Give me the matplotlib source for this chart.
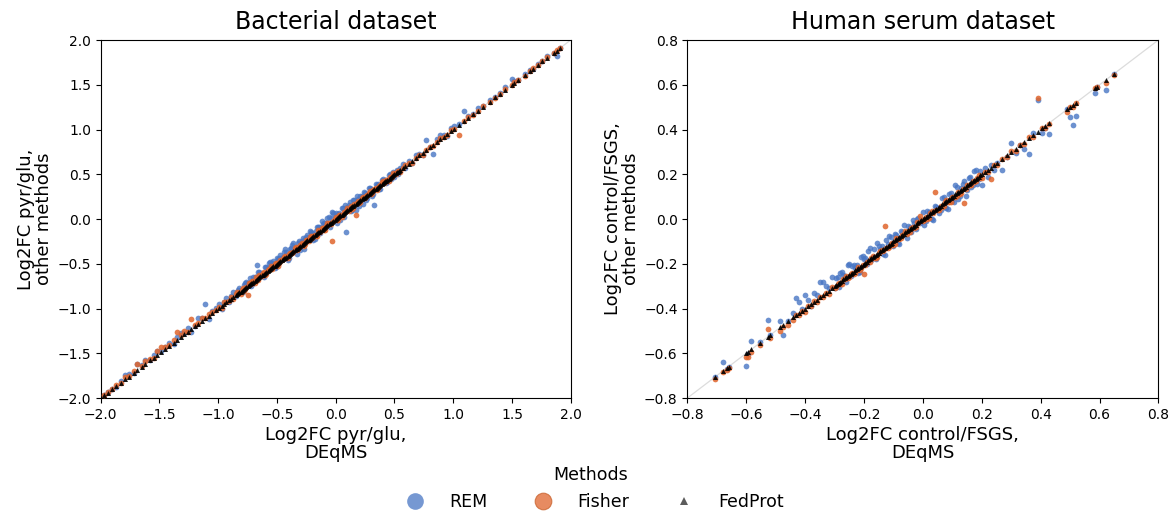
import matplotlib
matplotlib.use("Agg")
import matplotlib.pyplot as plt
from matplotlib.lines import Line2D

# Bacterial dataset: DEqMS log2FC (x) and per-method differences to it
bact_x_low = [-1.97, -1.94, -1.9, -1.87, -1.83, -1.79, -1.76, -1.72, -1.69, -1.65,
              -1.62, -1.58, -1.55, -1.52, -1.49, -1.45, -1.42, -1.38, -1.35, -1.32,
              -1.29, -1.26, -1.23, -1.2, -1.17, -1.14, -1.11, -1.08, -1.05, -1.02]
bact_x_mid = [-0.99, -0.97, -0.95, -0.93, -0.91, -0.89, -0.87, -0.85, -0.83, -0.81,
              -0.79, -0.77, -0.75, -0.73, -0.71, -0.69, -0.67, -0.65, -0.63, -0.61,
              -0.59, -0.57, -0.55, -0.53, -0.51, -0.49, -0.47, -0.45, -0.43, -0.41,
              -0.39, -0.37, -0.35, -0.33, -0.31, -0.29, -0.27, -0.25, -0.23, -0.21,
              -0.19, -0.17, -0.15, -0.13, -0.11, -0.09, -0.07, -0.05, -0.03, -0.01,
              0.01, 0.03, 0.05, 0.07, 0.09, 0.11, 0.13, 0.15, 0.17, 0.19,
              0.21, 0.23, 0.25, 0.27, 0.29, 0.31, 0.33, 0.35, 0.37, 0.39,
              0.41, 0.43, 0.45, 0.47, 0.49, 0.51, 0.53, 0.55, 0.57, 0.59]
bact_x_high = [0.62, 0.65, 0.68, 0.71, 0.74, 0.77, 0.8, 0.83, 0.86, 0.89,
               0.92, 0.95, 0.98, 1.01, 1.05, 1.09, 1.13, 1.17, 1.21, 1.25,
               1.31, 1.36, 1.4, 1.44, 1.5, 1.52, 1.55, 1.61, 1.65, 1.68,
               1.72, 1.76, 1.8, 1.86, 1.88, 1.91]
bact_x_dense = [-0.84, -0.82, -0.8, -0.78, -0.76, -0.74, -0.72, -0.7, -0.68, -0.66,
                -0.64, -0.62, -0.6, -0.58, -0.56, -0.54, -0.52, -0.5, -0.48, -0.46,
                -0.44, -0.42, -0.4, -0.38, -0.36, -0.34, -0.32, -0.3, -0.28, -0.26,
                -0.24, -0.22, -0.2, -0.18, -0.16, -0.14, -0.12, -0.1, -0.08, -0.06,
                -0.04, -0.02, 0.0, 0.02, 0.04, 0.06, 0.08, 0.1, 0.12, 0.14,
                0.16, 0.18, 0.2, 0.22, 0.24, 0.26, 0.28, 0.3, 0.32, 0.34,
                0.36, 0.38, 0.4, 0.42, 0.44, 0.46, 0.48, 0.5, 0.52, 0.54]

bact_rem_diff = [0.0, 0.01, 0.0, -0.01, 0.02, 0.05, 0.03, 0.0, 0.07, 0.02,
                 0.04, 0.0, 0.03, 0.05, 0.01, 0.02, 0.04, -0.02, 0.03, 0.05,
                 0.02, 0.04, -0.03, 0.0, 0.06, 0.03, 0.16, -0.04, 0.02, 0.03,
                 0.04, -0.03, 0.02, 0.05, -0.02, 0.03, 0.06, -0.01, 0.04, 0.02,
                 -0.03, 0.05, 0.03, 0.07, -0.02, 0.04, 0.155, 0.06, 0.03, -0.04,
                 0.05, 0.08, 0.02, 0.06, -0.03, 0.04, 0.07, 0.03, 0.1, -0.05,
                 0.05, 0.08, 0.02, -0.06, 0.06, 0.04, -0.07, 0.05, 0.03, 0.07,
                 -0.05, 0.04, 0.06, -0.03, 0.05, 0.02, 0.08, -0.04, 0.11, 0.03,
                 -0.06, 0.04, 0.07, -0.05, -0.23, 0.05, -0.04, 0.06, -0.07, 0.03,
                 0.05, -0.06, 0.04, -0.03, 0.06, -0.05, -0.17, 0.03, -0.04, 0.05,
                 0.02, -0.03, 0.04, -0.02, 0.03, 0.01, -0.03, 0.02, 0.04, -0.02,
                 0.03, -0.02, 0.04, 0.02, -0.03, 0.11, 0.01, -0.1, 0.03, 0.05,
                 0.02, -0.02, 0.04, 0.03, 0.01, 0.12, 0.02, 0.0, 0.03, 0.01,
                 0.02, 0.0, 0.01, 0.03, 0.06, 0.02, 0.0, 0.01, 0.02, 0.0,
                 0.01, 0.0, 0.02, 0.0, -0.06, 0.0,
                 0.03, 0.05, -0.02, 0.04, 0.06, 0.02, -0.03, 0.05, 0.03, 0.07,
                 0.04, -0.02, 0.06, 0.03, 0.08, 0.05, -0.03, 0.06, 0.04, 0.02,
                 0.07, 0.05, -0.04, 0.06, 0.09, 0.03, 0.05, -0.05, 0.07, 0.04,
                 0.06, 0.09, 0.04, -0.04, 0.07, 0.05, 0.1, 0.06, 0.03, 0.08,
                 0.05, 0.09, 0.07, 0.04, -0.05, 0.06, 0.08, 0.03, 0.07, -0.04,
                 0.05, 0.08, -0.06, 0.04, 0.06, -0.05, 0.07, 0.03, -0.04, 0.05,
                 0.03, -0.04, 0.05, 0.02, -0.03, 0.04, 0.02, -0.03, 0.03, 0.01]
bact_fisher_diff = [0.0, 0.01, 0.0, 0.02, 0.0, 0.03, 0.01, 0.02, 0.07, 0.01,
                    0.03, 0.02, 0.0, 0.04, 0.06, 0.02, 0.01, 0.03, 0.09, 0.02,
                    0.04, 0.0, 0.11, 0.02, 0.01, 0.03, 0.0, 0.02, 0.01, 0.0,
                    0.01, -0.02, 0.02, 0.0, -0.01, 0.02, -0.02, 0.01, 0.0, -0.03,
                    0.02, -0.01, -0.1, 0.01, 0.02, -0.02, 0.0, 0.03, -0.01, 0.02,
                    -0.02, 0.01, 0.03, -0.01, 0.02, -0.03, 0.01, 0.0, 0.02, -0.02,
                    0.01, -0.01, 0.03, -0.02, 0.0, 0.02, -0.03, 0.01, -0.02, 0.02,
                    0.0, -0.02, 0.03, -0.01, 0.01, -0.03, 0.02, -0.01, -0.22, 0.01,
                    -0.02, 0.02, -0.03, 0.01, 0.0, -0.02, 0.02, -0.03, -0.12, 0.01,
                    -0.02, 0.02, -0.01, 0.0, 0.02, -0.02, 0.01, -0.03, 0.0, 0.02,
                    -0.01, 0.01, -0.02, 0.0, 0.02, -0.01, 0.01, -0.02, 0.0, 0.01,
                    0.01, -0.02, 0.0, 0.01, -0.02, 0.0, 0.01, -0.01, 0.0, 0.02,
                    0.0, -0.01, 0.01, 0.0, -0.11, 0.0, 0.01, -0.01, 0.0, 0.01,
                    0.0, -0.01, 0.0, 0.01, 0.0, 0.01, 0.0, -0.01, 0.0, 0.01,
                    0.0, 0.0, 0.01, 0.0, 0.01, 0.0,
                    0.02, -0.01, 0.01, -0.02, 0.0, 0.02, -0.01, 0.01, 0.03, -0.02,
                    0.0, 0.02, -0.02, 0.01, 0.0, -0.02, 0.02, 0.01, -0.01, 0.0,
                    0.02, -0.02, 0.01, 0.0, -0.01, 0.03, -0.02, 0.01, 0.0, -0.02,
                    0.01, 0.02, -0.01, 0.0, -0.03, 0.01, 0.02, -0.02, 0.0, 0.01,
                    -0.02, 0.0, 0.02, -0.03, 0.01, -0.02, 0.0, 0.02, -0.01, -0.03,
                    0.01, 0.0, -0.02, 0.02, -0.01, 0.0, 0.01, -0.02, 0.0, 0.01,
                    -0.01, 0.0, 0.02, -0.01, 0.0, 0.01, -0.01, 0.0, 0.01, 0.0]

# Human serum dataset
serum_x_low = [-0.707, -0.68, -0.667, -0.66, -0.6, -0.595, -0.583, -0.553, -0.527, -0.52,
               -0.484, -0.474, -0.458]
serum_x_mid = [-0.44, -0.43, -0.42, -0.41, -0.40, -0.39, -0.38, -0.37, -0.36, -0.35,
               -0.34, -0.33, -0.32, -0.31, -0.30, -0.29, -0.28, -0.27, -0.26, -0.25,
               -0.24, -0.23, -0.22, -0.21, -0.20, -0.19, -0.18, -0.17, -0.16, -0.15,
               -0.14, -0.13, -0.12, -0.11, -0.10, -0.09, -0.08, -0.07, -0.06, -0.05,
               -0.04, -0.03, -0.02, -0.01, 0.0, 0.01, 0.02, 0.03, 0.04, 0.05,
               0.06, 0.07, 0.08, 0.09, 0.10, 0.11, 0.12, 0.13, 0.14, 0.15,
               0.16, 0.17, 0.18, 0.19, 0.20, 0.21, 0.22, 0.23, 0.24, 0.25]
serum_x_high = [0.27, 0.285, 0.30, 0.315, 0.33, 0.345, 0.36, 0.375, 0.39, 0.405,
                0.415, 0.427, 0.49, 0.5, 0.51, 0.52, 0.586, 0.59, 0.623, 0.648]
serum_x_dense = [-0.295, -0.285, -0.275, -0.265, -0.255, -0.245, -0.235, -0.225, -0.215, -0.205,
                 -0.195, -0.185, -0.175, -0.165, -0.155, -0.145, -0.135, -0.125, -0.115, -0.105,
                 -0.095, -0.085, -0.075, -0.065, -0.055, -0.045, -0.035, -0.025, -0.015, -0.005,
                 0.005, 0.015, 0.025, 0.035, 0.045, 0.055, 0.065, 0.075, 0.085, 0.095,
                 0.105, 0.115, 0.125, 0.135, 0.145, 0.155, 0.165, 0.175, 0.185, 0.195]

serum_rem_diff = [0.0, 0.04, -0.005, 0.0, -0.055, -0.01, 0.04, 0.005, 0.075, 0.0,
                  0.03, -0.045, 0.0,
                  0.02, 0.075, 0.05, 0.01, 0.06, 0.03, -0.01, 0.04, 0.02, 0.07,
                  0.06, 0.03, 0.01, 0.05, -0.01, 0.03, 0.04, 0.02, -0.02, 0.05,
                  0.03, 0.01, -0.02, 0.04, 0.02, -0.01, 0.05, 0.0, -0.02, 0.03,
                  0.02, -0.03, 0.01, 0.03, -0.02, 0.02, -0.03, 0.01, -0.01, 0.02,
                  -0.02, 0.01, 0.02, -0.01, 0.03, -0.02, 0.01, -0.03, 0.02, 0.0,
                  -0.02, 0.03, -0.03, 0.02, -0.02, 0.04, -0.03, 0.01, 0.03, -0.02,
                  0.03, -0.02, 0.04, -0.01, -0.05, 0.02, -0.03, 0.01, -0.02, 0.0,
                  -0.05, -0.01, 0.04, -0.02, 0.0, -0.03, -0.07, 0.01, 0.14, -0.02,
                  -0.01, -0.048, 0.0, -0.045, -0.09, -0.06, -0.024, 0.0, -0.046, 0.0,
                  0.03, -0.02, 0.04, 0.01, 0.05, -0.01, 0.03, 0.02, -0.02, 0.04,
                  0.02, 0.04, -0.01, 0.03, 0.05, 0.01, -0.02, 0.03, 0.04, 0.0,
                  0.03, -0.02, 0.02, 0.04, -0.03, 0.01, 0.03, -0.02, 0.02, -0.01,
                  -0.03, 0.02, -0.02, -0.04, 0.01, -0.03, 0.03, -0.02, -0.04, 0.02,
                  -0.03, 0.03, -0.02, 0.02, -0.04, 0.03, -0.02, 0.04, -0.03, 0.02]
serum_fisher_diff = [-0.01, -0.005, -0.01, -0.005, -0.015, -0.02, -0.01, -0.01, 0.035, -0.01,
                     -0.015, -0.01, -0.015,
                     -0.01, 0.0, -0.01, 0.0, -0.015, 0.0, -0.01, 0.005, -0.01, 0.0,
                     -0.01, 0.0, -0.015, 0.005, -0.01, 0.0, -0.01, 0.0, 0.005, -0.01,
                     0.0, -0.01, 0.005, -0.01, -0.045, 0.0, -0.01, 0.005, -0.015, 0.0,
                     0.0, 0.1, -0.01, 0.0, -0.015, 0.005, -0.01, 0.0, 0.005, -0.01,
                     0.0, -0.01, 0.005, 0.025, -0.01, 0.0, -0.015, 0.005, 0.08, -0.01,
                     0.0, -0.01, 0.005, -0.015, 0.0, -0.01, 0.0, -0.015, -0.07, 0.0,
                     -0.01, 0.0, -0.01, 0.005, -0.015, 0.0, -0.01, -0.05, 0.0, -0.01,
                     0.0, -0.01, 0.005, -0.01, 0.0, -0.01, 0.005, -0.01, 0.15, 0.0,
                     -0.01, -0.004, -0.01, 0.0, -0.01, 0.0, 0.0, 0.0, -0.013, -0.005,
                     -0.01, 0.0, -0.015, -0.005, -0.01, 0.0, -0.01, -0.005, -0.015, 0.0,
                     -0.01, -0.005, 0.0, -0.01, -0.015, 0.0, -0.01, -0.005, -0.01, 0.0,
                     -0.015, -0.005, -0.01, 0.0, -0.01, -0.015, 0.0, -0.01, -0.005, 0.0,
                     -0.01, -0.015, 0.0, -0.01, -0.005, -0.015, -0.01, 0.0, -0.01, -0.02,
                     -0.005, -0.01, -0.015, 0.0, -0.01, -0.005, -0.015, -0.01, 0.0, -0.01]

rem_color = "#4876C4"
fisher_color = "#E0652C"
fed_color = "black"

panels = [
    ("Bacterial dataset", bact_x_low + bact_x_mid + bact_x_high + bact_x_dense,
     bact_rem_diff, bact_fisher_diff,
     (-2.0, 2.0), 0.5, "Log2FC pyr/glu,\nDEqMS", "Log2FC pyr/glu,\nother methods"),
    ("Human serum dataset", serum_x_low + serum_x_mid + serum_x_high + serum_x_dense,
     serum_rem_diff, serum_fisher_diff,
     (-0.8, 0.8), 0.2, "Log2FC control/FSGS,\nDEqMS", "Log2FC control/FSGS,\nother methods"),
]


def fmt(t):
    if abs(t) < 1e-9:
        return "0.0"
    return f"{t:.1f}".replace("-", "\u2212")


fig = plt.figure(figsize=(11.75, 5.11), dpi=100)
axes = [fig.add_axes([0.0857, 0.2211, 0.4, 0.7006]),
        fig.add_axes([0.585, 0.2211, 0.4009, 0.7006])]

for ax, (title, x, rem_d, fis_d, lims, step, xlab, ylab) in zip(axes, panels):
    rem_y = [a + d for a, d in zip(x, rem_d)]
    fis_y = [a + d for a, d in zip(x, fis_d)]
    ax.plot(lims, lims, color="#dcdcdc", lw=0.9, zorder=0)
    ax.scatter(x, rem_y, s=17, color=rem_color, alpha=0.8, linewidths=0, zorder=2)
    ax.scatter(x, fis_y, s=17, color=fisher_color, alpha=0.85, linewidths=0, zorder=3)
    ax.scatter(x, x, s=13, marker="^", color=fed_color, alpha=0.9, linewidths=0, zorder=4)
    ax.set_xlim(lims)
    ax.set_ylim(lims)
    n = int(round((lims[1] - lims[0]) / step))
    ticks = [lims[0] + i * step for i in range(n + 1)]
    ax.set_xticks(ticks)
    ax.set_yticks(ticks)
    ax.set_xticklabels([fmt(t) for t in ticks])
    ax.set_yticklabels([fmt(t) for t in ticks])
    ax.tick_params(labelsize=10)
    ax.set_title(title, fontsize=17, pad=8)
    ax.set_xlabel(xlab, fontsize=13, labelpad=3, linespacing=1.0)
    ax.set_ylabel(ylab, fontsize=13, labelpad=3, linespacing=1.0)

handles = [
    Line2D([], [], marker="o", ls="", markersize=12, color=rem_color, alpha=0.75, markeredgewidth=0),
    Line2D([], [], marker="o", ls="", markersize=12, color=fisher_color, alpha=0.75,
           markeredgecolor="#c8602a", markeredgewidth=0.8),
    Line2D([], [], marker="^", ls="", markersize=6, color="#333333", alpha=0.8, markeredgewidth=0),
]
fig.legend(handles, ["REM", "Fisher", "FedProt"], title="Methods", loc="lower center",
           bbox_to_anchor=(0.503, -0.03), ncol=3, frameon=False, fontsize=12.5, title_fontsize=12.5,
           handletextpad=0.95, columnspacing=2.2)

fig.savefig("out.png", dpi=100)
